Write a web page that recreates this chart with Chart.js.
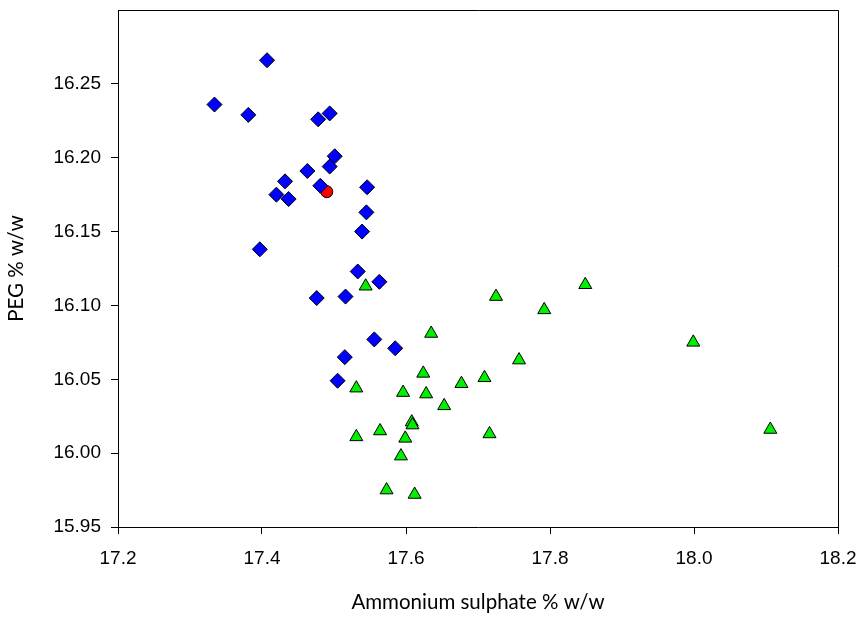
<!DOCTYPE html>
<html>
<head>
<meta charset="utf-8">
<script src="https://cdn.jsdelivr.net/npm/chart.js@4"></script>
<style>
  html, body { margin: 0; padding: 0; background: #fff; }
  #wrap { width: 860px; height: 621px; }
</style>
</head>
<body>
<div id="wrap"><canvas id="scatterChart" width="860" height="621"></canvas></div>
<script>
// Blue diamonds
const blueX = [17.407, 17.334, 17.381, 17.478, 17.494, 17.501, 17.494, 17.463, 17.432, 17.420, 17.437, 17.481,
               17.546, 17.545, 17.539, 17.397, 17.533, 17.563, 17.476, 17.516, 17.556, 17.585, 17.515, 17.505];
const blueY = [16.266, 16.236, 16.229, 16.226, 16.230, 16.201, 16.194, 16.191, 16.184, 16.175, 16.172, 16.181,
               16.180, 16.163, 16.150, 16.138, 16.123, 16.116, 16.105, 16.106, 16.077, 16.071, 16.065, 16.049];

// Green triangles
const greenX = [17.544, 17.725, 17.849, 17.792, 17.635, 17.757, 17.624, 17.709, 17.677, 17.531, 17.596, 17.628,
                17.653, 17.531, 17.564, 17.608, 17.609, 17.599, 17.716, 17.593, 17.573, 17.612, 17.999, 18.106];
const greenY = [16.113, 16.106, 16.114, 16.097, 16.081, 16.063, 16.054, 16.051, 16.047, 16.044, 16.041, 16.040,
                16.032, 16.011, 16.015, 16.021, 16.019, 16.010, 16.013, 15.998, 15.975, 15.972, 16.075, 16.016];

// Red circle
const redX = [17.490];
const redY = [16.177];

const xTicks = [17.2, 17.4, 17.6, 17.8, 18.0, 18.2];
const yTicks = [15.95, 16.00, 16.05, 16.10, 16.15, 16.20, 16.25];

const toPoints = (xs, ys) => xs.map((x, i) => ({ x: x, y: ys[i] }));

// top and right edges of the frame
const frame = {
    id: 'frame',
    afterDraw(chart) {
        const a = chart.chartArea;
        const ctx = chart.ctx;
        ctx.save();
        ctx.strokeStyle = '#000';
        ctx.lineWidth = 1;
        ctx.beginPath();
        ctx.moveTo(a.left, a.top + 0.5);
        ctx.lineTo(a.right + 0.5, a.top + 0.5);
        ctx.lineTo(a.right + 0.5, a.bottom);
        ctx.stroke();
        ctx.restore();
    }
};

const tickFont = { family: "'Liberation Sans', Arial, sans-serif", size: 19 };
const titleFont = { family: "Lato, 'Open Sans', sans-serif", size: 20.5 };

new Chart(document.getElementById('scatterChart'), {
    type: 'scatter',
    data: {
        datasets: [{
            label: 'blue',
            data: toPoints(blueX, blueY),
            pointStyle: 'rectRot',
            pointRadius: 7.5,
            backgroundColor: '#0000ff',
            borderColor: '#000',
            borderWidth: 1
        }, {
            label: 'green',
            data: toPoints(greenX, greenY),
            pointStyle: 'triangle',
            pointRadius: 7.5,
            backgroundColor: '#00f000',
            borderColor: '#000',
            borderWidth: 1
        }, {
            label: 'red',
            data: toPoints(redX, redY),
            pointStyle: 'circle',
            pointRadius: 6,
            backgroundColor: '#ff0000',
            borderColor: '#000',
            borderWidth: 1
        }]
    },
    options: {
        responsive: false,
        animation: false,
        events: [],
        layout: { padding: { top: 10, right: 22, left: 0, bottom: 0 } },
        plugins: { legend: { display: false }, tooltip: { enabled: false } },
        scales: {
            x: {
                type: 'linear',
                min: 17.2,
                max: 18.2,
                afterFit: s => {
                    s.height = 94;
                    s.paddingLeft = 0;
                    s.paddingRight = 0;
                },
                afterBuildTicks: s => { s.ticks = xTicks.map(v => ({ value: v })); },
                grid: { drawOnChartArea: false, drawTicks: true, tickLength: 7, color: '#000' },
                border: { display: true, color: '#000', width: 1 },
                ticks: {
                    color: '#000',
                    font: tickFont,
                    padding: 13,
                    maxRotation: 0,
                    callback: v => v.toFixed(1)
                },
                title: {
                    display: true,
                    text: 'Ammonium sulphate % w/w',
                    color: '#000',
                    font: titleFont,
                    padding: { top: 0, bottom: 6 }
                }
            },
            y: {
                type: 'linear',
                min: 15.95,
                max: 16.30,
                afterFit: s => {
                    s.width = 118;
                    s.paddingTop = 0;
                    s.paddingBottom = 0;
                },
                afterBuildTicks: s => { s.ticks = yTicks.map(v => ({ value: v })); },
                grid: { drawOnChartArea: false, drawTicks: true, tickLength: 7, color: '#000' },
                border: { display: true, color: '#000', width: 1 },
                ticks: {
                    color: '#000',
                    font: tickFont,
                    padding: 10,
                    callback: v => v.toFixed(2)
                },
                title: {
                    display: true,
                    text: 'PEG % w/w',
                    color: '#000',
                    font: titleFont,
                    padding: { top: 4, bottom: 0 }
                }
            }
        }
    },
    plugins: [frame]
});
</script>
</body>
</html>
